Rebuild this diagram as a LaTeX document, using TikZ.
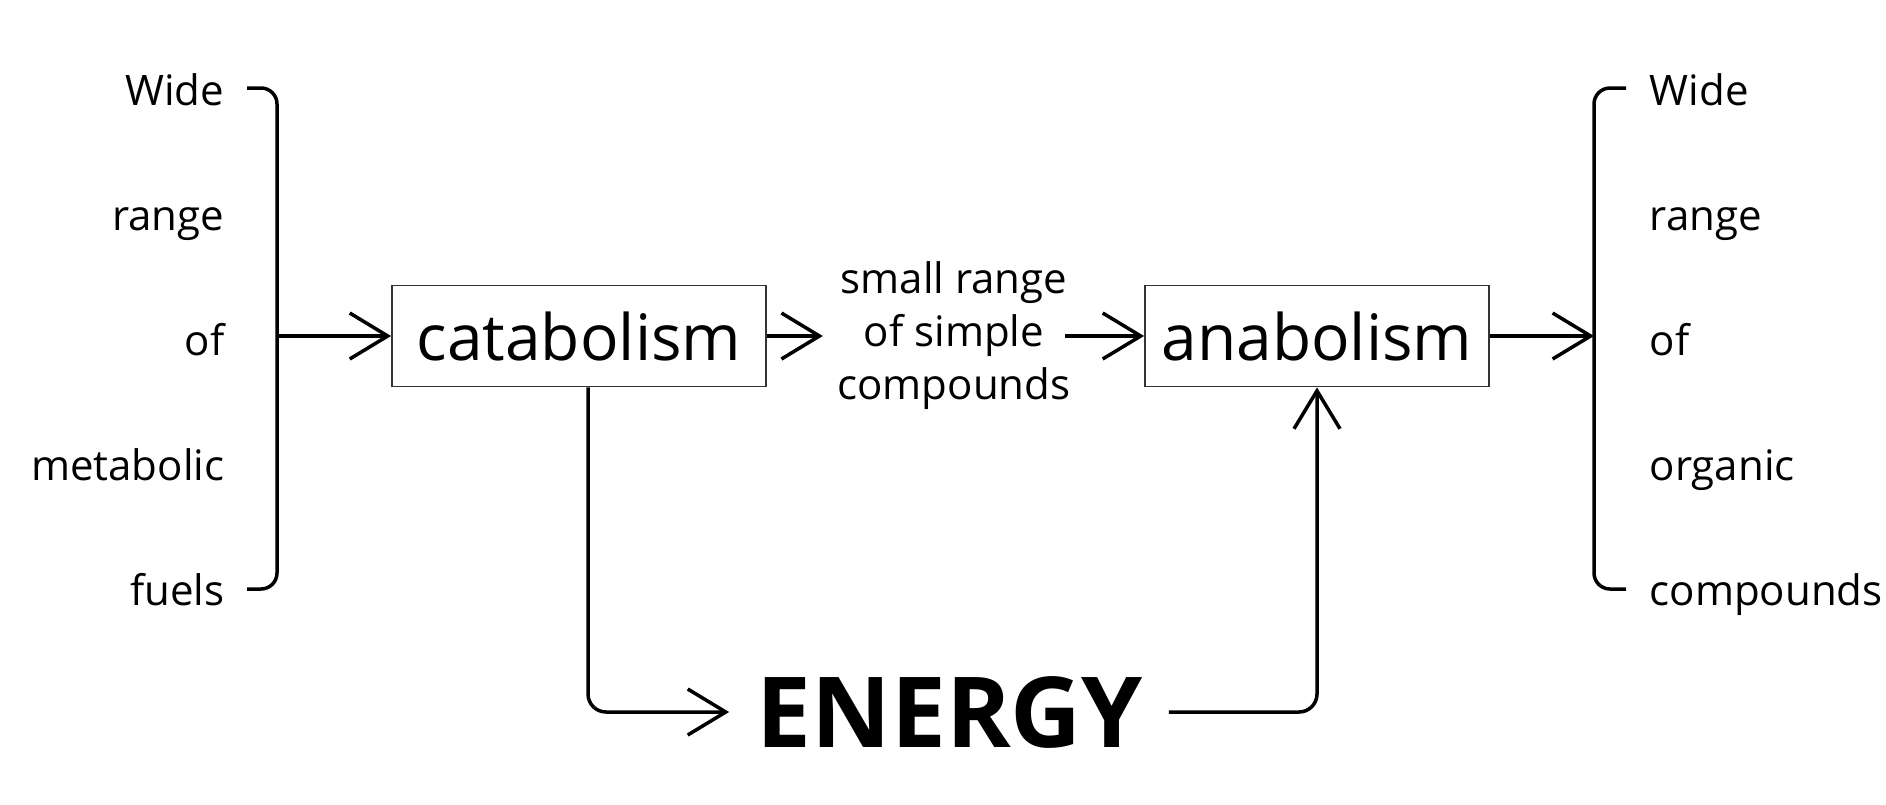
\documentclass[tikz,border=0pt]{standalone}
\usepackage{fontspec}
\setmainfont{Open Sans}
\usetikzlibrary{arrows.meta}
\begin{document}
\begin{tikzpicture}[x=1pt,y=-1pt,line width=3.5pt,
  arr/.style={-{Straight Barb[length=38pt,width=46pt,line width=3.5pt]}},
  procbox/.style={draw=black!80,line width=1.8pt,minimum width=374pt,minimum height=101pt,inner sep=0pt,font=\fontsize{64}{72}\selectfont},
  lbl/.style={inner sep=0pt,font=\fontsize{42}{53}\selectfont},
  energystyle/.style={inner sep=0pt,font=\fontsize{98}{110}\selectfont\bfseries}
]
\useasboundingbox (0,0) rectangle (1886,804);

% left labels
\node[lbl,anchor=base east] (l1) at (226,105) {Wide};
\node[lbl,anchor=base east] (l2) at (226,230) {range};
\node[lbl,anchor=base east] (l3) at (226,355) {of};
\node[lbl,anchor=base east] (l4) at (226,480) {metabolic};
\node[lbl,anchor=base east] (l5) at (226,605) {fuels};

% right labels
\node[lbl,anchor=base west] (r1) at (1648,105) {Wide};
\node[lbl,anchor=base west] (r2) at (1648,230) {range};
\node[lbl,anchor=base west] (r3) at (1648,355) {of};
\node[lbl,anchor=base west] (r4) at (1648,480) {organic};
\node[lbl,anchor=base west] (r5) at (1648,605) {compounds};

% brackets
\draw[rounded corners=16pt] (247,88) -- (277,88) -- (277,589) -- (247,589);
\draw[rounded corners=16pt] (1626,88) -- (1594,88) -- (1594,589) -- (1626,589);
\coordinate (lb) at (277,336);
\coordinate (rb) at (1594,336);

% boxes
\node[procbox] (cata) at (579,336) {catabolism};
\node[procbox,minimum width=344pt] (ana) at (1317,336) {anabolism};

% middle text
\node[lbl,align=center] (mid) at (954,336) {small range\\of simple\\compounds};

% energy
\node[energystyle] (energy) at (950,712) {ENERGY};

% connectors
\draw[arr] (lb) -- (cata.west);
\draw[arr,shorten >=13pt] (cata.east) -- (mid.west |- cata.east);
\draw[arr,shorten <=-7pt] (mid.east |- ana.west) -- (ana.west);
\draw[arr] (ana.east) -- (rb);
\draw[arr,rounded corners=18pt,shorten >=26pt] ([xshift=9pt]cata.south) |- (energy.west);
\draw[arr,rounded corners=18pt] ([xshift=24pt]energy.east) -| (ana.south);
\end{tikzpicture}
\end{document}
